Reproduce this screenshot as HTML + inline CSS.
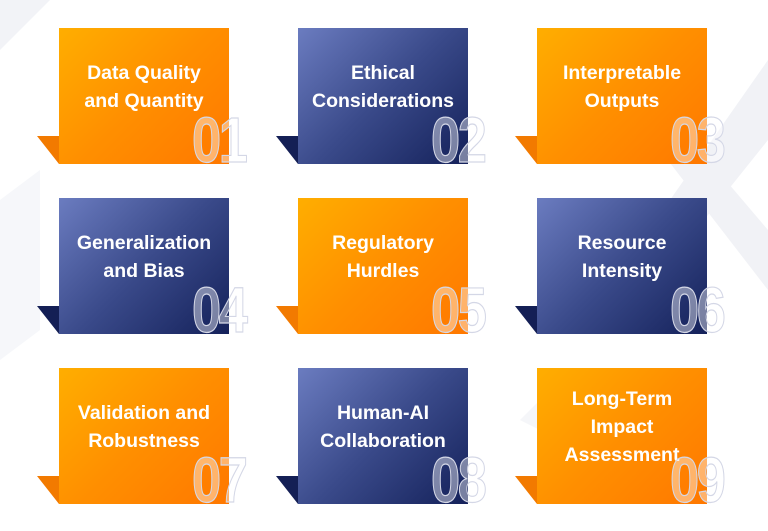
<!DOCTYPE html>
<html><head><meta charset="utf-8"><style>
html,body{margin:0;padding:0;background:#fff;}
#wrap{position:relative;width:768px;height:531px;overflow:hidden;background:#fff;font-family:"Liberation Sans","DejaVu Sans",sans-serif;}
.card{position:absolute;width:170px;height:136px;}
.card .bg{position:absolute;left:0;top:0;width:170px;height:136px;}
.orange .bg{background:linear-gradient(135deg,#ffae00 0%,#ff8f00 50%,#ff7800 100%);}
.blue .bg{background:linear-gradient(135deg,#6b7cc0 0%,#3a4a8a 50%,#14215a 100%);}
.fold{position:absolute;left:-22px;top:108px;width:22px;height:28px;clip-path:polygon(0 0,100% 0,100% 100%);}
.orange .fold{background:#f27a00;}
.blue .fold{background:#141f55;}
.title{position:absolute;left:0;top:1px;width:170px;height:116px;display:flex;align-items:center;justify-content:center;text-align:center;color:#fff;font-weight:bold;font-size:19.5px;line-height:28px;}
.num{position:absolute;left:133px;top:80px;font-weight:bold;font-size:64px;line-height:64px;color:rgba(255,255,255,0.42);-webkit-text-stroke:1.2px #d4d7e6;transform:scaleX(0.82);transform-origin:left top;letter-spacing:-3px;white-space:nowrap;}
</style></head><body>
<div id="wrap">
<svg width="768" height="531" style="position:absolute;left:0;top:0">
<polygon points="0,0 50,0 0,50" fill="#f2f3f7"/>
<polygon points="0,200 40,170 40,330 0,360" fill="#f6f7fa"/>
<polygon points="768,60 768,140 640,300 600,300" fill="#f1f2f6"/>
<polygon points="660,150 700,150 768,230 768,290" fill="#f1f2f6"/>
<polygon points="520,420 560,380 620,380 560,440" fill="#f5f6f9"/>
</svg>
<div class="card orange" style="left:59px;top:28px"><div class="fold"></div><div class="bg"></div><div class="title">Data Quality<br>and Quantity</div><div class="num">01</div></div>
<div class="card blue" style="left:298px;top:28px"><div class="fold"></div><div class="bg"></div><div class="title">Ethical<br>Considerations</div><div class="num">02</div></div>
<div class="card orange" style="left:537px;top:28px"><div class="fold"></div><div class="bg"></div><div class="title">Interpretable<br>Outputs</div><div class="num">03</div></div>
<div class="card blue" style="left:59px;top:198px"><div class="fold"></div><div class="bg"></div><div class="title">Generalization<br>and Bias</div><div class="num">04</div></div>
<div class="card orange" style="left:298px;top:198px"><div class="fold"></div><div class="bg"></div><div class="title">Regulatory<br>Hurdles</div><div class="num">05</div></div>
<div class="card blue" style="left:537px;top:198px"><div class="fold"></div><div class="bg"></div><div class="title">Resource<br>Intensity</div><div class="num">06</div></div>
<div class="card orange" style="left:59px;top:368px"><div class="fold"></div><div class="bg"></div><div class="title">Validation and<br>Robustness</div><div class="num">07</div></div>
<div class="card blue" style="left:298px;top:368px"><div class="fold"></div><div class="bg"></div><div class="title">Human-AI<br>Collaboration</div><div class="num">08</div></div>
<div class="card orange" style="left:537px;top:368px"><div class="fold"></div><div class="bg"></div><div class="title">Long-Term<br>Impact<br>Assessment</div><div class="num">09</div></div>
</div>
</body></html>
